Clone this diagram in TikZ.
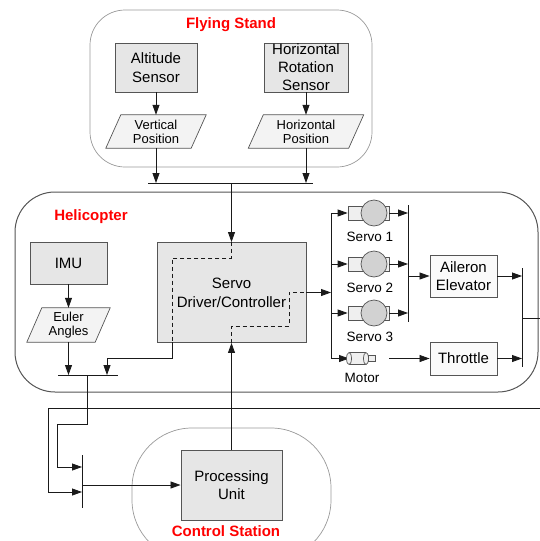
\documentclass[tikz,border=0pt]{standalone}
\usepackage{fontspec}
\setmainfont{Liberation Sans}
\usetikzlibrary{arrows.meta,backgrounds}
\definecolor{boxfill}{HTML}{E6E6E6}
\definecolor{parafill}{HTML}{F3F3F3}
\definecolor{edgec}{HTML}{555555}
\definecolor{linec}{HTML}{1A1A1A}
\definecolor{circfill}{HTML}{D2D2D2}
\definecolor{cylfill}{HTML}{EFEFEF}
\definecolor{ttlred}{HTML}{FF0000}
\begin{document}
\begin{tikzpicture}[x=1pt,y=-1pt,
  gbox/.style={draw=edgec, fill=boxfill, line width=0.9pt, inner sep=0pt, align=center,
               font=\fontsize{15pt}{18.5pt}\selectfont},
  wbox/.style={gbox, fill=gray!4},
  para/.style={inner sep=0pt, align=center, font=\fontsize{13pt}{14pt}\selectfont},
  paradraw/.style={draw=edgec, fill=parafill, line width=0.7pt},
  slbl/.style={inner sep=0pt, font=\fontsize{13.5pt}{15pt}\selectfont},
  ttl/.style={text=ttlred, inner sep=0pt, font=\bfseries\fontsize{15pt}{18pt}\selectfont},
  arr/.style={draw=linec, line width=0.8pt, -{Triangle[length=10pt,width=7pt]}},
  ln/.style={draw=linec, line width=0.8pt},
  bus/.style={draw=linec, line width=1pt},
  dsh/.style={draw=linec, line width=0.9pt, dash pattern=on 4pt off 3pt},
  srect/.style={draw=edgec, fill=cylfill, line width=0.7pt, minimum width=41pt, minimum height=14pt, inner sep=0pt},
  scirc/.style={circle, draw=edgec, fill=circfill, line width=0.7pt, minimum size=26pt, inner sep=0pt}
]
\useasboundingbox (0,0) rectangle (540,541);
\begin{scope}
\clip (0,0) rectangle (540,541);

% containers
\draw[gray!80, line width=0.7pt, rounded corners=35pt] (90,10) rectangle (372,167);
\draw[edgec, line width=1pt, rounded corners=40pt] (15,192) rectangle (538,392);
\draw[gray!80, line width=0.7pt, rounded corners=60pt] (132,428) rectangle (331,560);

\node[ttl] (tfs) at (231,25) {Flying Stand};
\node[ttl] (thel) at (91,217) {Helicopter};
\node[ttl] (tcs) at (226,531) {Control Station};

% flying stand
\node[gbox, minimum width=82pt, minimum height=49pt] (alt) at (156,67.5) {Altitude\\Sensor};
\node[gbox, minimum width=84pt, minimum height=49pt, font=\fontsize{15pt}{18pt}\selectfont] (hrs) at (306,67.5) {Horizontal\\Rotation\\Sensor};
\node[para, minimum width=100pt, minimum height=33pt] (vp) at (156,131.5) {Vertical\\Position};
\node[para, minimum width=115pt, minimum height=33pt] (hp) at (306,131.5) {Horizontal\\Position};

% helicopter
\node[gbox, minimum width=77pt, minimum height=42pt] (imu) at (68.5,263) {IMU};
\node[para, minimum width=83pt, minimum height=34pt] (ea) at (68.5,325) {Euler\\Angles};
\node[gbox, minimum width=149pt, minimum height=100pt, font=\fontsize{15pt}{19pt}\selectfont] (servo) at (231.5,292.5) {Servo\\Driver/Controller};
\node[wbox, minimum width=67pt, minimum height=42pt] (ail) at (463.5,276) {Aileron\\Elevator};
\node[wbox, minimum width=67pt, minimum height=33pt] (thr) at (463.5,358.5) {Throttle};

% control station
\node[gbox, minimum width=101pt, minimum height=70pt] (pu) at (231.5,485) {Processing\\Unit};

\begin{pgfonlayer}{background}
\foreach \p in {vp,hp,ea}{
  \draw[paradraw] ([xshift=15pt]\p.north west) -- (\p.north east) -- ([xshift=-15pt]\p.south east) -- (\p.south west) -- cycle;
}
\end{pgfonlayer}

% flying stand connectors
\coordinate (fsL) at (148,183);
\coordinate (fsR) at (313,183);
\coordinate (fsM) at (231.5,183);
\draw[bus] (fsL) -- (fsR);
\draw[arr] (alt.south) -- (vp.north);
\draw[arr] (hrs.south) -- (hp.north);
\draw[arr] (vp.south) -- (vp.south |- fsL);
\draw[arr] (hp.south) -- (hp.south |- fsL);
\draw[arr] (fsM) -- (servo.north);

% helicopter left part
\coordinate (hbL) at (58,375);
\coordinate (hbR) at (118,375);
\coordinate (hbM) at (87,375);
\draw[bus] (hbL) -- (hbR);
\draw[arr] (imu.south) -- (ea.north);
\draw[arr] (ea.south) -- (ea.south |- hbL);
\draw[dsh] (servo.north) -- (231.5,258) -- (172,258) -- (172,342);
\draw[arr] (172,342) |- (107,358) -- (107,375);
\draw[dsh] (servo.south) -- (231.5,326) -- (289,326) -- (289,292.5) -- (servo.east);

% distribution
\coordinate (dT) at (331,213);
\coordinate (dB) at (331,358.5);
\draw[ln] (dT) -- (dB);
\draw[arr] (servo.east) -- (servo.east -| dT);

\coordinate (sbT) at (408,205);
\coordinate (sbB) at (408,322);
\draw[bus] (sbT) -- (sbB);
\foreach \n/\y/\t in {1/213/Servo 1, 2/264/Servo 2, 3/313/Servo 3}{
  \node[srect] (sr\n) at (368.5,\y) {};
  \node[scirc] (sc\n) at (374,\y) {};
  \draw[arr] (331,\y) -- (sr\n.west);
  \draw[arr] (sr\n.east) -- (408,\y);
  \node[slbl] (sl\n) at (370,\y+24) {\t};
}
\draw[arr] (408,276) -- (ail.west);

% motor
\coordinate (mot) at (349,358.5);
\draw[arr] (dB) -- (mot);
\fill[cylfill] (349,352.5) rectangle (366,364.5);
\draw[edgec, line width=0.7pt] (349,352.5) -- (366,352.5) (349,364.5) -- (366,364.5);
\draw[edgec, line width=0.7pt, fill=cylfill] (366,358.5) ellipse [x radius=2.5, y radius=6];
\draw[edgec, line width=0.7pt, fill=cylfill] (349,358.5) ellipse [x radius=2.5, y radius=6];
\draw[edgec, line width=0.7pt, fill=cylfill] (368.5,355.5) rectangle (375,361.5);
\node[slbl] (ml) at (362,378) {Motor};
\coordinate (mo) at (389,358.5);
\draw[arr] (mo) -- (thr.west);

% right bus
\coordinate (rbT) at (522,268);
\coordinate (rbB) at (522,367);
\draw[bus] (rbT) -- (rbB);
\draw[arr] (ail.east) -- (ail.east -| rbT);
\draw[arr] (thr.east) -- (thr.east -| rbT);
\coordinate (rbM) at (522,318);
\coordinate (outR) at (545,318);
\draw[ln] (rbM) -- (outR);

% lower loop
\coordinate (loopR) at (545,408);
\coordinate (cbT) at (82,455);
\coordinate (cbB) at (82,508);
\draw[bus] (cbT) -- (cbB);
\draw[arr] (loopR) -- (48,408) -- (48,492) -- (82,492);
\draw[arr] (hbM) -- (87,424) -- (57,424) -- (57,467) -- (82,467);
\draw[arr] (82,485) -- (pu.west);
\draw[arr] (pu.north) -- (servo.south);
\end{scope}
\end{tikzpicture}
\end{document}
